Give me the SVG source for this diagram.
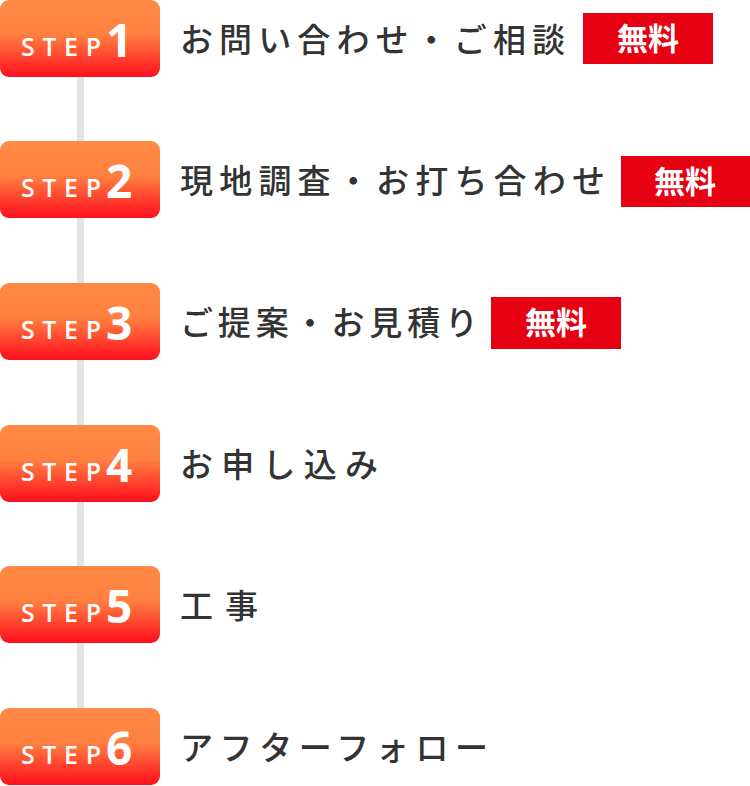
<svg xmlns="http://www.w3.org/2000/svg" width="750" height="786" viewBox="0 0 750 786">
<style>
.st{font-family:"Open Sans","Noto Sans",sans-serif;fill:#fff;font-size:25px;font-weight:600}
.num{font-family:"Open Sans","Noto Sans",sans-serif;fill:#fff;font-size:46px;font-weight:700}
.lb{font-family:"Noto Sans CJK JP",sans-serif;fill:#333;font-size:33px;font-weight:500}
.fr{fill:#e60012}
.ft{font-family:"Noto Sans CJK JP",sans-serif;fill:#fff;font-size:31px;font-weight:700}
</style>
<defs><linearGradient id="g" x1="0" y1="0" x2="0" y2="1"><stop offset="0" stop-color="#ff8a44"/><stop offset="0.45" stop-color="#ff8040"/><stop offset="1" stop-color="#ff0e1e"/></linearGradient></defs>
<g id="connectors"><rect x="77" y="60" width="7" height="680" fill="#e4e4e4"/></g>
<g id="s1"><rect x="0" y="0" width="160" height="77" rx="9" fill="url(#g)"/><text class="st" x="21" y="56" textLength="80" lengthAdjust="spacing">STEP</text><text class="num" x="106" y="57">1</text><text class="lb" x="180" y="52" textLength="385" lengthAdjust="spacing">お問い合わせ・ご相談</text><rect class="fr" x="583" y="13" width="130" height="51"/><text class="ft" x="648" y="50" text-anchor="middle">無料</text></g>
<g id="s2"><rect x="0" y="141" width="160" height="77" rx="9" fill="url(#g)"/><text class="st" x="21" y="197" textLength="80" lengthAdjust="spacing">STEP</text><text class="num" x="106" y="198">2</text><text class="lb" x="180" y="193" textLength="425" lengthAdjust="spacing">現地調査・お打ち合わせ</text><rect class="fr" x="621" y="156" width="129" height="51"/><text class="ft" x="685" y="193" text-anchor="middle">無料</text></g>
<g id="s3"><rect x="0" y="283" width="160" height="77" rx="9" fill="url(#g)"/><text class="st" x="21" y="339" textLength="80" lengthAdjust="spacing">STEP</text><text class="num" x="106" y="340">3</text><text class="lb" x="180" y="335" textLength="298" lengthAdjust="spacing">ご提案・お見積り</text><rect class="fr" x="491" y="297" width="130" height="52"/><text class="ft" x="556" y="334" text-anchor="middle">無料</text></g>
<g id="s4"><rect x="0" y="425" width="160" height="77" rx="9" fill="url(#g)"/><text class="st" x="21" y="481" textLength="80" lengthAdjust="spacing">STEP</text><text class="num" x="106" y="482">4</text><text class="lb" x="180" y="477" textLength="198" lengthAdjust="spacing">お申し込み</text></g>
<g id="s5"><rect x="0" y="566" width="160" height="77" rx="9" fill="url(#g)"/><text class="st" x="21" y="622" textLength="80" lengthAdjust="spacing">STEP</text><text class="num" x="106" y="623">5</text><text class="lb" x="180" y="618" textLength="78" lengthAdjust="spacing">工事</text></g>
<g id="s6"><rect x="0" y="708" width="160" height="77" rx="9" fill="url(#g)"/><text class="st" x="21" y="764" textLength="80" lengthAdjust="spacing">STEP</text><text class="num" x="106" y="765">6</text><text class="lb" x="180" y="760" textLength="308" lengthAdjust="spacing">アフターフォロー</text></g>
</svg>
